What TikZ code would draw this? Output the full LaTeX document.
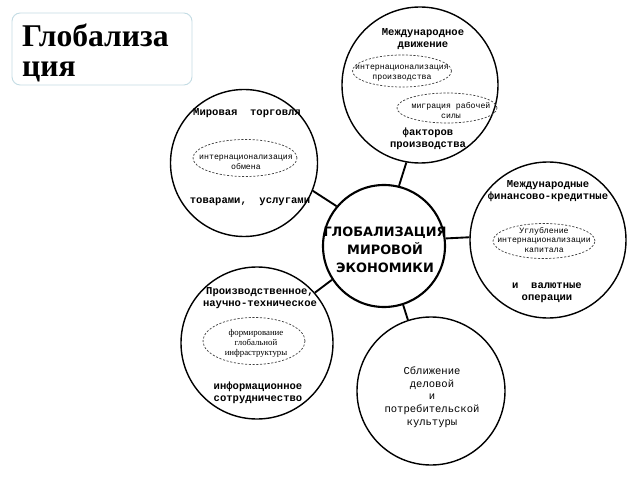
\documentclass[tikz,border=0pt]{standalone}
\usepackage{fontspec}
\setmainfont{Liberation Serif}
\newfontfamily\monofont{Liberation Mono}
\newfontfamily\headfont{DejaVu Sans}
\usepackage{tikz}
\usetikzlibrary{shapes.geometric}
\definecolor{frameblue}{RGB}{196,220,228}

\begin{document}
\begin{tikzpicture}[x=0.03cm, y=-0.03cm,
    ring/.style={draw, circle, line width=1.2pt, inner sep=0pt},
    oval/.style={draw=black!75, ellipse, line width=0.6pt, dash pattern=on 1.8pt off 1.4pt, inner sep=0pt},
    lbl/.style={align=center, inner sep=0pt, font=\monofont\bfseries\fontsize{9}{10.5}\selectfont},
    plain/.style={align=center, inner sep=0pt, font=\monofont\fontsize{9}{10.9}\selectfont},
    small/.style={align=center, inner sep=0pt, font=\monofont\fontsize{7}{8.5}\selectfont}]
  \useasboundingbox (0,0) rectangle (640,480);
  \fill[white] (0,0) rectangle (640,480);

  % title
  \node (titlebox) at (102,49) [draw=frameblue, line width=0.8pt, rounded corners=7pt, minimum width=5.4cm, minimum height=2.16cm] {};
  \node (title) at (22,53) [anchor=west, align=left, inner sep=0pt, font=\bfseries\fontsize{27}{25}\selectfont] {Глобализа\\ция};

  % circles
  \node (glob) at (384,246) [ring, line width=1.8pt, minimum size=3.66cm] {};
  \node (dv) at (420,85)  [ring, minimum size=4.68cm] {};
  \node (tr) at (244,163) [ring, minimum size=4.41cm] {};
  \node (fk) at (548,240) [ring, minimum size=4.68cm] {};
  \node (pr) at (257,343) [ring, minimum size=4.56cm] {};
  \node (sb) at (431,391) [ring, minimum size=4.44cm] {};
  \foreach \o/\a/\b in {dv/76/260, tr/140/338, fk/7/178, pr/213/41, sb/288/108}
    {
      \draw[line width=1.6pt] (glob.\a) -- (\o.\b);
    }

  % dashed ovals
  \node (ovdv) at (402,71)  [oval, minimum width=2.97cm, minimum height=0.96cm] {};
  \node (ovmig) at (447,108) [oval, minimum width=3.0cm, minimum height=0.9cm] {};
  \node (ovtr) at (245,158) [oval, minimum width=3.12cm, minimum height=1.11cm] {};
  \node (ovfk) at (544,241) [oval, minimum width=3.06cm, minimum height=1.05cm] {};
  \node (ovpr) at (254,341) [oval, minimum width=3.06cm, minimum height=1.41cm] {};

  % texts
  \node (globtxt) at (385,250) [align=center, inner sep=0pt, font=\headfont\bfseries\fontsize{11}{15.4}\selectfont] {ГЛОБАЛИЗАЦИЯ\\МИРОВОЙ\\ЭКОНОМИКИ};

  \node (dvtop) at (423,39) [lbl] {Международное\\движение};
  \node (dvin) at (402,73) [small] {интернационализация\\производства};
  \node (migin) at (451,111) [small] {миграция рабочей\\силы};
  \node (dvbot) at (428,139) [lbl] {факторов\\производства};

  \node (trtop) at (247,113) [lbl] {Мировая\ \ торговля};
  \node (trin) at (246,162) [small] {интернационализация\\обмена};
  \node (trbot) at (250,202) [lbl] {товарами,\ \ услугами};

  \node (fktop) at (548,191) [lbl] {Международные\\финансово-кредитные};
  \node (fkin) at (544,240) [small] {Углубление\\интернационализации\\капитала};
  \node (fkbot) at (547,293) [lbl] {и\ \ валютные\\операции};

  \node (prtop) at (260,298) [lbl] {Производственное,\\научно-техническое};
  \node (prin) at (256,343) [align=center, inner sep=0pt, font=\fontsize{7.5}{8.5}\selectfont] {формирование\\глобальной\\инфраструктуры};
  \node (prbot) at (258,393) [lbl] {информационное\\сотрудничество};

  \node (sbtxt) at (432,397) [plain] {Сближение\\деловой\\и\\потребительской\\культуры};
\end{tikzpicture}
\end{document}
